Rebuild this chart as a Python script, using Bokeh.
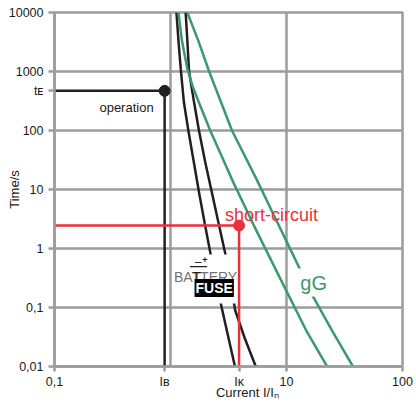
import math
from bokeh.plotting import figure
from bokeh.models import Range1d, FixedTicker, Label, BoxAnnotation, LogAxis
from bokeh.embed import file_html
from bokeh.resources import INLINE

# ---------------- data ----------------
# battery fuse, lower (faster) characteristic
fuse_a_current = [1.125, 1.171, 1.225, 1.304, 1.425, 1.588, 1.770, 1.972, 2.219, 2.676, 3.101, 3.594]
fuse_a_time = [10000, 3340, 1117, 304, 100, 29.3, 8.48, 2.68, 0.788, 0.132, 0.0362, 0.01]
# battery fuse, upper characteristic
fuse_b_current = [1.351, 1.397, 1.445, 1.595, 1.759, 1.991, 2.286, 2.597, 2.952, 3.257, 3.614, 4.375, 5.433]
fuse_b_time = [10000, 3340, 1000, 304, 100, 29.3, 8.48, 2.68, 0.853, 0.292, 0.0889, 0.0298, 0.01]
# gG fuse, lower characteristic
gg_a_current = [1.171, 1.254, 1.397, 1.557, 1.752, 2.198, 2.783, 3.455, 5.224, 9.61, 14.8, 22.4]
gg_a_time = [10000, 3340, 1117, 551, 304, 100, 35.5, 13.6, 2.47, 0.221, 0.0407, 0.01]
# gG fuse, upper characteristic
gg_b_current = [1.397, 1.735, 2.154, 3.388, 5.54, 7.44, 11.70, 16.36, 24.7, 37.4]
gg_b_time = [10000, 3340, 1000, 100, 14.7, 4.40, 0.700, 0.174, 0.0407, 0.01]

# operating point and short-circuit point
I_B = 0.89
t_E = 470
I_K = 3.9
t_K = 2.45

x_ticks = [0.1, I_B, I_K, 10, 100]
x_tick_labels = ["0,1", "I\u0299", "I\u1d0b", "10", "100"]
x_grid = [0.1, 1, 10, 100]
y_ticks = [0.01, 0.1, 1, 10, 100, t_E, 1000, 10000]
y_tick_labels = ["0,01", "0,1", "1", "10", "100", "t\u1d07", "1000", "10000"]
y_grid = [0.01, 0.1, 1, 10, 100, 1000, 10000]
x_title = "Current I/I\u2099"
x_title_at = 4.6
y_title = "Time/s"

# ---------------- style ----------------
BLACK = "#231f20"
GREEN = "#3a9a6b"
RED = "#e8323a"
GRAY = "#9c9c9c"
TEXT = "#1a1a1a"
FONT = "Liberation Sans"

p = figure(width=416, height=403, x_axis_type="log", y_axis_type="log",
           x_range=Range1d(0.1, 100), y_range=Range1d(0.01, 10000),
           output_backend="svg", toolbar_location=None,
           min_border_left=54, min_border_right=14, min_border_top=12,
           min_border_bottom=37)
p.background_fill_color = "white"
p.border_fill_color = "white"
p.outline_line_color = GRAY
p.outline_line_width = 2.5

p.xaxis.ticker = FixedTicker(ticks=x_ticks)
p.xaxis.major_label_overrides = dict(zip(x_ticks, x_tick_labels))
p.yaxis.ticker = FixedTicker(ticks=y_ticks)
p.yaxis.major_label_overrides = dict(zip(y_ticks, y_tick_labels))
for ax in (p.xaxis[0], p.yaxis[0]):
    ax.axis_line_color = GRAY
    ax.axis_line_width = 2.5
    ax.major_tick_line_color = GRAY
    ax.major_tick_line_width = 2.5
    ax.minor_tick_line_color = None
    ax.major_tick_in = 0
    ax.major_label_text_font = FONT
    ax.major_label_text_font_size = "12.5px"
    ax.major_label_text_color = TEXT
p.xaxis.major_tick_out = 5
p.xaxis.major_label_standoff = 3
p.yaxis.major_tick_out = 6
p.yaxis.major_label_standoff = 5
p.yaxis.axis_label = y_title
p.yaxis.axis_label_standoff = -16
p.yaxis.axis_label_text_font = FONT
p.yaxis.axis_label_text_font_size = "13px"
p.yaxis.axis_label_text_font_style = "normal"
p.yaxis.axis_label_text_color = TEXT

# x title as a second, tick-less axis so it can sit off-centre like the original
xt = LogAxis(ticker=FixedTicker(ticks=[x_title_at]),
             major_label_overrides={x_title_at: x_title},
             axis_line_color=None, major_tick_line_color=None,
             minor_tick_line_color=None, major_tick_out=0, major_tick_in=0,
             major_label_standoff=-7, major_label_text_font=FONT,
             major_label_text_font_size="13px", major_label_text_color=TEXT)
p.add_layout(xt, "below")

p.xgrid.ticker = FixedTicker(ticks=x_grid)
p.ygrid.ticker = FixedTicker(ticks=y_grid)
for g in (p.xgrid[0], p.ygrid[0]):
    g.grid_line_color = GRAY
    g.grid_line_width = 2.5
    g.minor_grid_line_color = None

# ---------------- curves ----------------
LW = 2.5
p.line(fuse_a_current, fuse_a_time, line_color=BLACK, line_width=LW)
p.line(fuse_b_current, fuse_b_time, line_color=BLACK, line_width=LW)
p.line(gg_a_current, gg_a_time, line_color=GREEN, line_width=LW)
p.line(gg_b_current, gg_b_time, line_color=GREEN, line_width=LW)

# operation point
p.line([0.1, I_B, I_B], [t_E, t_E, 0.01], line_color=BLACK, line_width=LW)
p.scatter([I_B], [t_E], size=11, color=BLACK)
# short-circuit point
p.line([0.1, I_K, I_K], [t_K, t_K, 0.01], line_color=RED, line_width=LW)
p.scatter([I_K], [t_K], size=11, color=RED)

# ---------------- labels ----------------
def lab(**kw):
    kw.setdefault("text_font", FONT)
    kw.setdefault("text_color", TEXT)
    kw.setdefault("text_baseline", "alphabetic")
    p.add_layout(Label(**kw))

lab(x=I_B, y=t_E, x_offset=-11, y_offset=-17, text="operation",
    text_align="right", text_font_size="13px")
lab(x=I_K, y=t_K, x_offset=-14, y_offset=11, text="short-circuit",
    text_align="left", text_font_size="18px", text_color=RED)

# gG label (white box interrupts the curve)
lab(x=12.4, y=0.265, text="gG", text_font_size="20px", text_color=GREEN,
    background_fill_color="white", background_fill_alpha=1.0, padding=3)

# battery fuse logo
p.add_layout(BoxAnnotation(left=1.083, right=3.62, bottom=0.117, top=0.79,
                           fill_color="white", fill_alpha=1.0, line_color=None))
AX, AY = 1.07, 0.3226
LOGO_GRAY = "#727272"
lab(x=AX, y=AY, text="BATTERY", text_color=LOGO_GRAY, text_font_size="14px")
lab(x=AX, y=AY, x_offset=18.7, text="T", text_color=BLACK, text_font_size="14px")
lab(x=AX, y=AY, x_offset=16, y_offset=11.5, text="\u2014", text_color=BLACK,
    text_font_size="17px")
lab(x=AX, y=AY, x_offset=21, y_offset=15.5, text="\u2013", text_color=BLACK,
    text_font_size="12px")
lab(x=AX, y=AY, x_offset=31, y_offset=17, text="+", text_color=BLACK,
    text_align="center", text_font_size="9px", text_font_style="bold")
lab(x=AX, y=AY, x_offset=60, y_offset=-10.5, text="FUSE", text_color="white",
    text_align="right", text_baseline="middle", text_font_size="14px",
    text_font_style="bold", background_fill_color="black",
    background_fill_alpha=1.0, padding=1)

open("out.html", "w").write(file_html(p, INLINE))
